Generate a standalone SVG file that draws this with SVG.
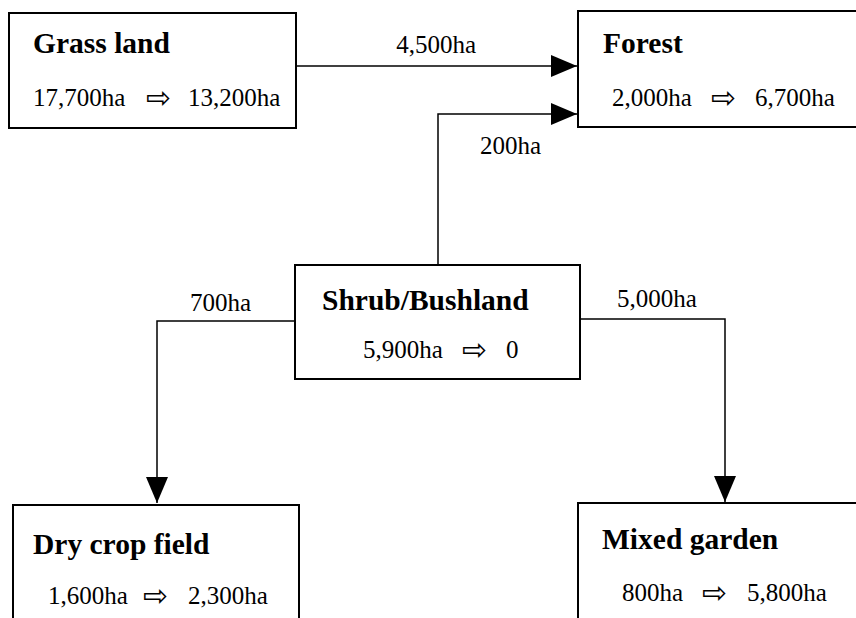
<svg xmlns="http://www.w3.org/2000/svg" width="856" height="618" viewBox="0 0 856 618">
<defs>
<style>
.box{fill:#fff;stroke:#000;stroke-width:2}
.title{font-family:"Liberation Serif","Times New Roman",serif;font-weight:bold;font-size:29.5px;fill:#000}
.val{font-family:"Liberation Serif","Times New Roman",serif;font-size:25px;fill:#000}
.arr{font-family:"DejaVu Sans",sans-serif;font-size:30px;fill:#000}
.lbl{font-family:"Liberation Serif","Times New Roman",serif;font-size:25px;fill:#000}
.conn{fill:none;stroke:#000;stroke-width:1.5}
</style>
<marker id="ah" markerUnits="userSpaceOnUse" markerWidth="26" markerHeight="22" refX="26" refY="11" orient="auto">
<path d="M0,0 L26,11 L0,22 Z" fill="#000"/>
</marker>
</defs>
<rect width="856" height="618" fill="#fff"/>
<g id="connectors">
<path class="conn" d="M296,66 H577" marker-end="url(#ah)"/>
<path class="conn" d="M438,265 V114 H577" marker-end="url(#ah)"/>
<path class="conn" d="M295,321 H157 V503" marker-end="url(#ah)"/>
<path class="conn" d="M580,319 H725 V502" marker-end="url(#ah)"/>
<text class="lbl" x="476" y="53" text-anchor="end">4,500ha</text>
<text class="lbl" x="480" y="154">200ha</text>
<text class="lbl" x="190" y="311">700ha</text>
<text class="lbl" x="617" y="307">5,000ha</text>
</g>
<g id="grass-land">
<rect class="box" x="9" y="13" width="287" height="115"/>
<text class="title" x="33" y="53">Grass land</text>
<text class="val" x="33" y="106">17,700ha</text>
<text class="arr" x="146" y="108">⇨</text>
<text class="val" x="188" y="106">13,200ha</text>
</g>
<g id="forest">
<rect class="box" x="578" y="11" width="290" height="116"/>
<text class="title" x="603" y="53">Forest</text>
<text class="val" x="612" y="106">2,000ha</text>
<text class="arr" x="711" y="108">⇨</text>
<text class="val" x="755" y="106">6,700ha</text>
</g>
<g id="shrub-bushland">
<rect class="box" x="295" y="265" width="285" height="114"/>
<text class="title" x="322" y="310">Shrub/Bushland</text>
<text class="val" x="363" y="358">5,900ha</text>
<text class="arr" x="462" y="360">⇨</text>
<text class="val" x="506" y="358">0</text>
</g>
<g id="dry-crop-field">
<rect class="box" x="13" y="505" width="286" height="130"/>
<text class="title" x="33" y="554">Dry crop field</text>
<text class="val" x="48" y="604">1,600ha</text>
<text class="arr" x="143" y="606">⇨</text>
<text class="val" x="188" y="604">2,300ha</text>
</g>
<g id="mixed-garden">
<rect class="box" x="578" y="503" width="290" height="130"/>
<text class="title" x="602" y="549">Mixed garden</text>
<text class="val" x="622" y="601">800ha</text>
<text class="arr" x="702" y="603">⇨</text>
<text class="val" x="747" y="601">5,800ha</text>
</g>
</svg>
